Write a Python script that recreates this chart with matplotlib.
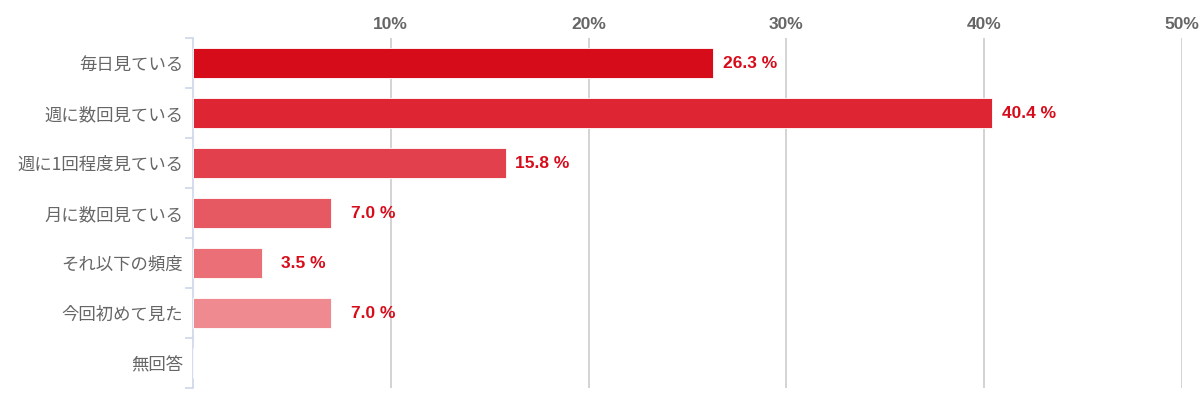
import matplotlib
matplotlib.use("Agg")
import matplotlib.pyplot as plt
from matplotlib.ticker import FixedLocator, NullFormatter

plt.rcParams['font.family'] = ['Noto Sans CJK JP', 'DejaVu Sans']

categories = ["毎日見ている", "週に数回見ている", "週に1回程度見ている", "月に数回見ている",
              "それ以下の頻度", "今回初めて見た", "無回答"]
values = [26.3, 40.4, 15.8, 7.0, 3.5, 7.0, 0.0]
colors = ["#d70c1a", "#de2533", "#e2404c", "#e65862", "#ea6f77", "#ee8a90", "#f2a5a9"]
xticks = [10, 20, 30, 40, 50]

fig = plt.figure(figsize=(12, 3.96), dpi=100)
ax = fig.add_axes([193 / 1200, 8 / 396, 989 / 1200, 350 / 396])

y = list(range(len(categories)))
ax.barh(y, values, height=0.6, color=colors, edgecolor="white", linewidth=0.6, zorder=3)

ax.set_xlim(0, 50)
ax.set_ylim(len(categories) - 0.5, -0.5)

for sp in ["top", "right", "bottom"]:
    ax.spines[sp].set_visible(False)
ax.spines["left"].set_color("#ccd6eb")
ax.spines["left"].set_linewidth(1.2)

ax.xaxis.tick_top()
ax.set_xticks(xticks)
ax.set_xticklabels([f"{t}%" for t in xticks], fontsize=12.5, fontweight="bold",
                   color="#666666", family=["Liberation Sans", "DejaVu Sans"])
ax.tick_params(axis="x", length=0, pad=4)
ax.grid(axis="x", color="#cccccc", linewidth=1.2, zorder=0)

ax.set_yticks(y)
ax.set_yticklabels(categories, fontsize=12.5, color="#666666")
ax.tick_params(axis="y", length=0, pad=7)
ax.yaxis.set_minor_locator(FixedLocator([i - 0.5 for i in range(len(categories) + 1)]))
ax.yaxis.set_minor_formatter(NullFormatter())
ax.tick_params(axis="y", which="minor", length=6, width=1.2, color="#ccd6eb")

for yi, v in zip(y, values):
    if v > 0:
        ax.annotate(f"{v:.1f} %", xy=(v, yi), xytext=(46, 0), textcoords="offset points",
                    ha="right", va="center", fontsize=12.5, fontweight="bold",
                    color="#d70c1a", family=["Liberation Sans", "DejaVu Sans"])

fig.savefig("out.png", dpi=100)
